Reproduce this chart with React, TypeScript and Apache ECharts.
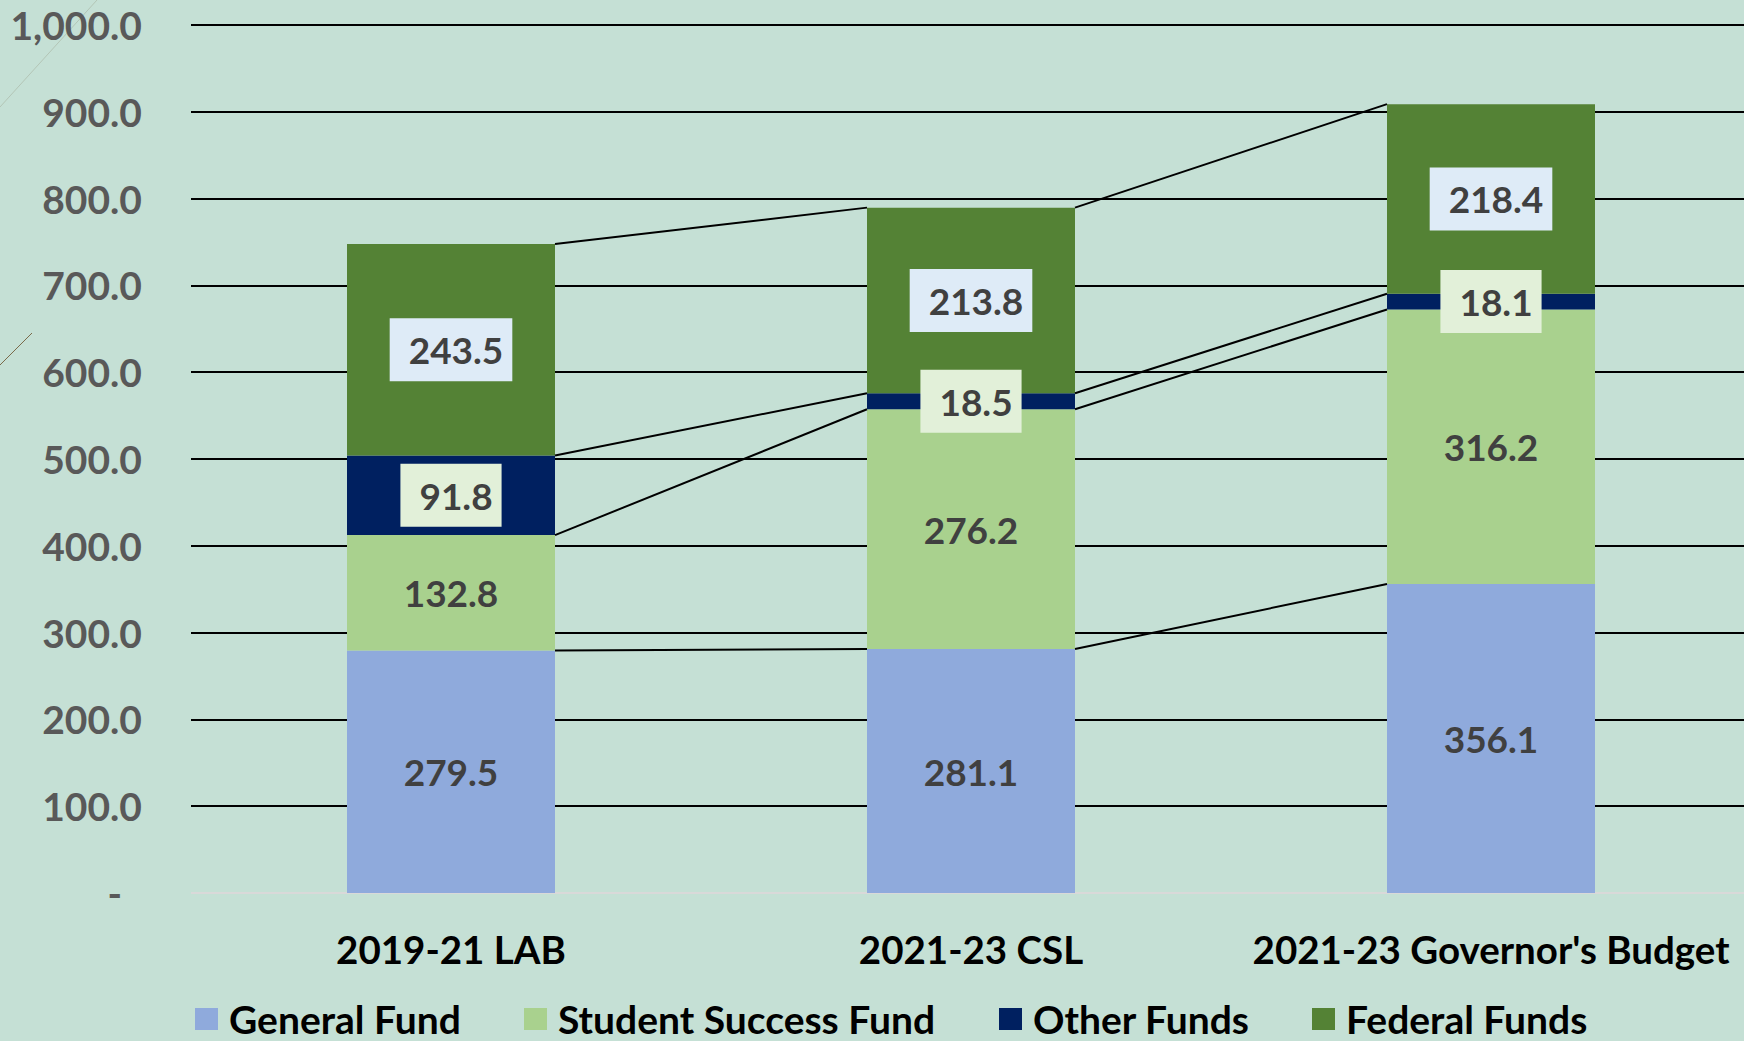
import React, { useEffect, useRef } from "react";
import * as echarts from "echarts";

const categories = ["2019-21 LAB", "2021-23 CSL", "2021-23 Governor's Budget"];
const seriesNames = ["General Fund", "Student Success Fund", "Other Funds", "Federal Funds"];
const generalFund = [279.5, 281.1, 356.1];
const studentSuccessFund = [132.8, 276.2, 316.2];
const otherFunds = [91.8, 18.5, 18.1];
const federalFunds = [243.5, 213.8, 218.4];
const yTicks = [0, 100, 200, 300, 400, 500, 600, 700, 800, 900, 1000];

const colors = ["#8FAADC", "#A9D18E", "#002060", "#548235"];
const FONT = "Lato";

export default function App() {
  const ref = useRef<HTMLDivElement>(null);
  useEffect(() => {
    document.body.style.margin = "0";
    document.body.style.overflow = "hidden";
    document.documentElement.style.overflow = "hidden";
    const chart = echarts.init(ref.current!, null, { renderer: "svg" });
    const all = [generalFund, studentSuccessFund, otherFunds, federalFunds];
    const cum: number[][] = categories.map((_, i) => {
      let s = 0;
      return all.map((arr) => (s += arr[i]));
    });
    const connectors: number[][] = [];
    for (let i = 0; i < categories.length - 1; i++) {
      for (let k = 0; k < all.length; k++) {
        connectors.push([i, cum[i][k], cum[i + 1][k]]);
      }
    }
    const labelBase = {
      show: true,
      position: "inside",
      fontFamily: FONT,
      fontWeight: "bold",
      fontSize: 37,
      color: "#404040",
      formatter: (p: any) => Number(p.value).toFixed(1),
    };
    const boxed = (bg: string) => ({
      ...labelBase,
      backgroundColor: bg,
      padding: [14, 9, 12, 19],
    });
    const barSeries = seriesNames.map((name, idx) => ({
      name,
      type: "bar",
      stack: "total",
      barWidth: "40%",
      data: all[idx],
      itemStyle: { color: colors[idx] },
      label:
        idx === 2 ? boxed("#E2F0D9") : idx === 3 ? boxed("#DEEBF7") : labelBase,
      z: 2,
    }));
    const legendLefts = [195, 524, 999, 1312];
    const option: any = {
      animation: false,
      backgroundColor: "#C5E0D5",
      grid: { left: 191, top: 25, width: 1560, height: 868, containLabel: false },
      legend: seriesNames.map((n, i) => ({
        data: [n],
        left: legendLefts[i],
        top: 999,
        padding: 0,
        icon: "rect",
        itemWidth: 23,
        itemHeight: 22,
        itemGap: 0,
        textStyle: {
          fontFamily: FONT,
          fontWeight: "bold",
          fontSize: 39,
          lineHeight: 40,
          color: "#000",
          padding: [0, 0, 0, 6],
        },
        selectedMode: false,
      })),
      xAxis: {
        type: "category",
        data: categories,
        axisLine: { show: false },
        axisTick: { show: false },
        axisLabel: {
          interval: 0,
          fontFamily: FONT,
          fontWeight: "bold",
          fontSize: 38.5,
          color: "#000",
          margin: 36,
        },
      },
      yAxis: {
        type: "value",
        min: 0,
        max: 1000,
        interval: 100,
        axisLine: { show: false },
        axisTick: { show: false },
        splitLine: {
          show: true,
          lineStyle: {
            width: 2,
            color: yTicks.map((t) => (t === 0 ? "#D9D9D9" : "#000000")),
          },
        },
        axisLabel: {
          margin: 49,
          fontFamily: FONT,
          fontWeight: "bold",
          fontSize: 39,
          color: "#595959",
          formatter: (v: number) =>
            v === 0
              ? "{z|-}"
              : v.toLocaleString("en-US", {
                  minimumFractionDigits: 1,
                  maximumFractionDigits: 1,
                }),
          rich: {
            z: {
              fontFamily: FONT,
              fontWeight: "bold",
              fontSize: 39,
              color: "#595959",
              padding: [0, 20, 0, 0],
            },
          },
        },
      },
      series: [
        ...barSeries,
        {
          type: "custom",
          name: "connectors",
          data: connectors,
          encode: { x: 0, y: 1 },
          silent: true,
          z: 3,
          renderItem: (params: any, api: any) => {
            const i = api.value(0);
            const a = api.coord([i, api.value(1)]);
            const b = api.coord([i + 1, api.value(2)]);
            const band = api.size([1, 0])[0];
            const half = band * 0.2;
            return {
              type: "line",
              shape: { x1: a[0] + half, y1: a[1], x2: b[0] - half, y2: b[1] },
              style: { stroke: "#000", lineWidth: 2 },
            };
          },
        },
      ],
      graphic: [
        {
          type: "line",
          shape: { x1: 0, y1: 107, x2: 97, y2: 0 },
          style: { stroke: "#B3C5B6", lineWidth: 1 },
          silent: true,
        },
        {
          type: "line",
          shape: { x1: 0, y1: 365, x2: 32, y2: 333 },
          style: { stroke: "#7A6A4A", lineWidth: 1 },
          silent: true,
        },
      ],
    };
    chart.setOption(option);
    return () => chart.dispose();
  }, []);
  return <div ref={ref} style={{ width: 1760, height: 1041 }} />;
}
